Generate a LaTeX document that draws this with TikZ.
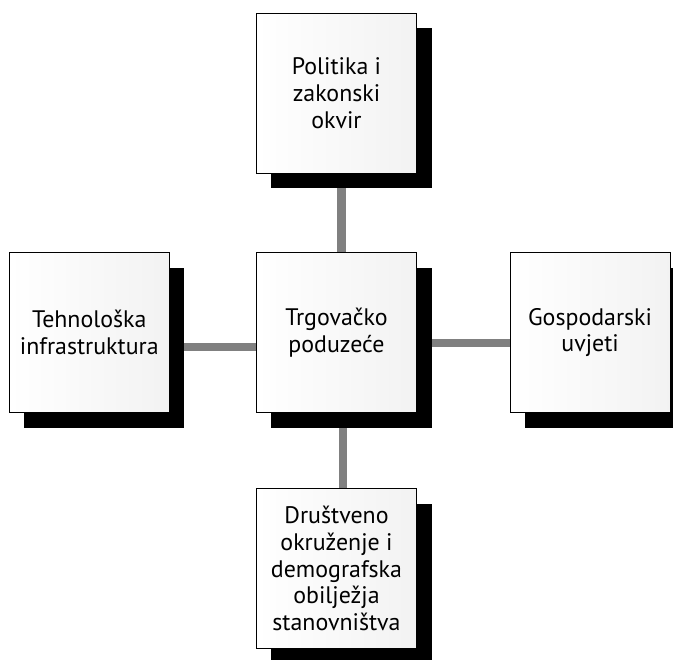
\documentclass[tikz,border=0pt]{standalone}
\usepackage{fontspec}
\setmainfont{PT Sans}
\usetikzlibrary{positioning,shadows,backgrounds}
\tikzset{
  factor/.style = {draw, line width=0.7pt, minimum width=4cm, minimum height=4cm,
                   inner sep=0pt, align=center,
                   font=\fontsize{17pt}{19pt}\selectfont,
                   left color=white, middle color=white, right color=black!5,
                   drop shadow={shadow xshift=0.375cm, shadow yshift=-0.375cm,
                                fill=black, opacity=1}},
  link/.style   = {line width=2mm, black!50},
}

\begin{document}
\begin{tikzpicture}
  \useasboundingbox (-8.4125,-8.1625) rectangle (8.4125,8.3125);
  \node[factor] (mid)    at (0, 0)     {Trgovačko\\poduzeće};
  \node[factor] (top)    at (0, 5.98)  {Politika i\\zakonski\\okvir};
  \node[factor] (left)   at (-6.18, 0) {Tehnološka\\infrastruktura};
  \node[factor] (right)  at (6.34, 0)  {Gospodarski\\uvjeti};
  \node[factor] (bottom) at (0, -5.9)  {Društveno\\okruženje i\\demografska\\obilježja\\stanovništva};
  \begin{scope}[on background layer]
    \draw[link] ([xshift=1.25mm]top.center) -- ([xshift=1.25mm]mid.center);
    \draw[link] ([xshift=1.6mm]mid.center) -- ([xshift=1.6mm]bottom.center);
    \draw[link] ([yshift=-3.6mm]left.center) -- ([yshift=-3.6mm]mid.center);
    \draw[link] ([yshift=-2.6mm]mid.center) -- ([yshift=-2.6mm]right.center);
  \end{scope}
\end{tikzpicture}
\end{document}
